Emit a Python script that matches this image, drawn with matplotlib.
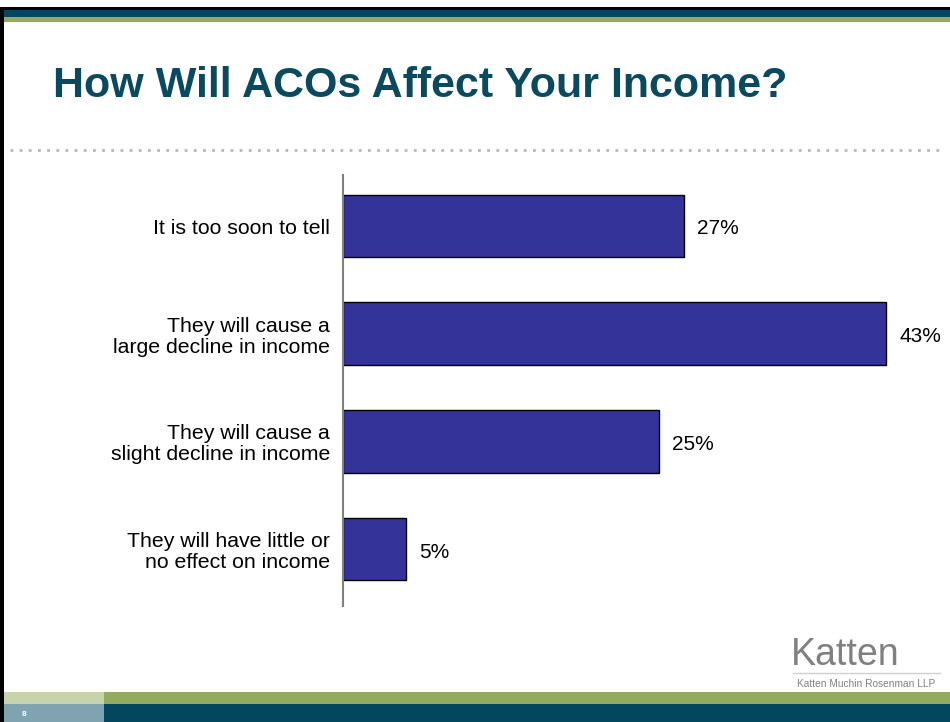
import matplotlib
matplotlib.use("Agg")
import matplotlib.pyplot as plt
import matplotlib.transforms as mtransforms
from matplotlib.patches import Rectangle
from matplotlib.lines import Line2D

categories = ["It is too soon to tell",
              "They will cause a\nlarge decline in income",
              "They will cause a\nslight decline in income",
              "They will have little or\nno effect on income"]
values = [27, 43, 25, 5]
value_labels = ["27%", "43%", "25%", "5%"]

W, H = 950, 722
fig = plt.figure(figsize=(W / 100, H / 100), dpi=100)
plt.rcParams['font.family'] = ['Liberation Sans', 'DejaVu Sans']

TEAL = "#03475F"
GREEN = "#94AA5C"
LGREEN = "#C8D3AB"
LTEAL = "#7FA3B1"
BAR = "#333399"


def rect(x0, y0, x1, y1, color, z=0):
    fig.add_artist(Rectangle((x0 / W, 1 - y1 / H), (x1 - x0) / W, (y1 - y0) / H,
                             transform=fig.transFigure, facecolor=color,
                             edgecolor="none", zorder=z))

# top bands
rect(0, 7, W, 10, "black")
rect(0, 10, W, 17, TEAL)
rect(0, 17, W, 22, GREEN)
# bottom bands
rect(0, 692, W, 704, GREEN)
rect(0, 692, 104, 704, LGREEN, 1)
rect(0, 704, W, H, TEAL)
rect(0, 704, 104, H, LTEAL, 1)
# left border
rect(0, 7, 4, H, "black", 2)

fig.text(24 / W, 1 - 714 / H, "8", color="white", fontsize=6, fontweight="bold",
         ha="center", va="center")

# title
fig.text(53 / W, 1 - 97 / H, "How Will ACOs Affect Your Income?", color="#0A4A60",
         fontsize=31, fontweight="bold", ha="left", va="baseline")

# dotted separator
fig.add_artist(Line2D([10 / W, 945 / W], [1 - 150 / H, 1 - 150 / H],
                      transform=fig.transFigure, color="#B8B8B8",
                      linestyle=(0, (1, 2.3)), linewidth=2.0))

# logo
fig.text(845 / W, 1 - 665 / H, "Katten", color="#808080", fontsize=27,
         ha="center", va="baseline")
fig.add_artist(Line2D([793 / W, 940 / W], [1 - 673 / H, 1 - 673 / H],
                      transform=fig.transFigure, color="#D0D0D0", linewidth=1))
fig.text(866 / W, 1 - 684 / H, "Katten Muchin Rosenman LLP", color="#808080",
         fontsize=7.3, ha="center", va="center")

# chart
ax_left, ax_right = 343, 950
ax_top, ax_bot = 175, 606
ax = fig.add_axes([ax_left / W, 1 - ax_bot / H, (ax_right - ax_left) / W,
                   (ax_bot - ax_top) / H])
px_per = 12.63
ax.set_xlim(0, (ax_right - ax_left) / px_per)
n = len(categories)
ax.set_ylim(n - 0.5 + 0.028, -0.5 + 0.028)
ypos = list(range(n))
ax.barh(ypos, values, height=0.58, color=BAR, edgecolor="black", linewidth=1)

down = mtransforms.offset_copy(ax.transData, fig=fig, x=0, y=-3, units="dots")
for y, v, lab in zip(ypos, values, value_labels):
    ax.text(v + 1.05, y, lab, fontsize=15, va="center", ha="left", color="black",
            transform=down)

lab_tr = mtransforms.offset_copy(
    mtransforms.blended_transform_factory(ax.transAxes, ax.transData),
    fig=fig, x=-13, y=-3, units="dots")
for y, cat in zip(ypos, categories):
    ax.text(0, y, cat, fontsize=15.3, va="center", ha="right",
            multialignment="right", linespacing=1.12, transform=lab_tr,
            clip_on=False)

ax.set_yticks([])
ax.set_xticks([])
for s in ["top", "right", "bottom"]:
    ax.spines[s].set_visible(False)
ax.spines["left"].set_color("#808080")
ax.spines["left"].set_linewidth(1.5)
ax.patch.set_alpha(0)

fig.savefig("out.png", dpi=100)
